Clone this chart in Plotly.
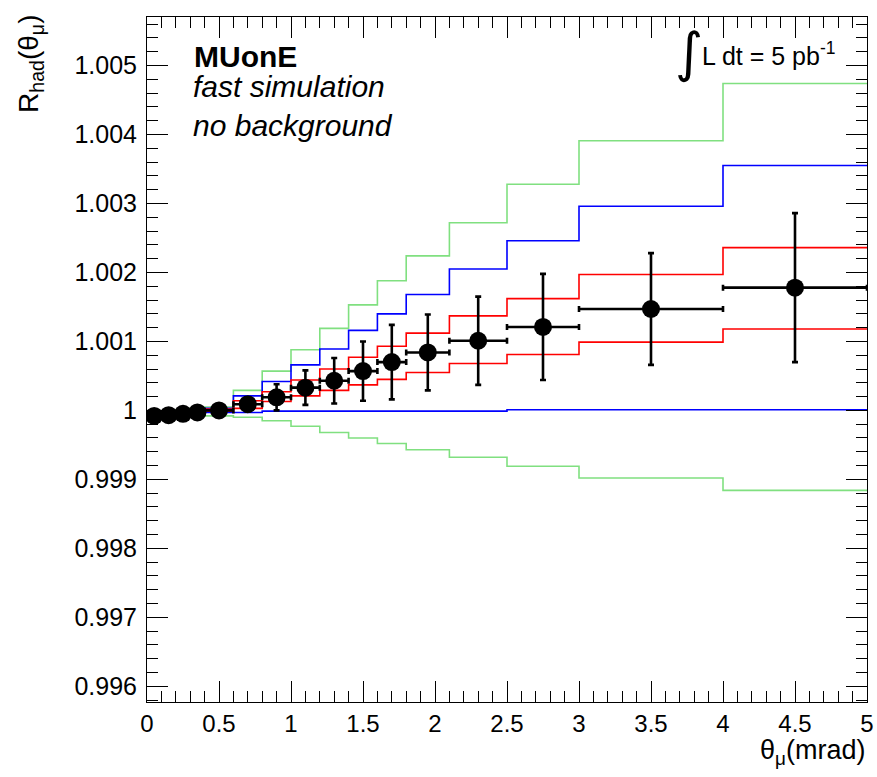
import plotly.graph_objects as go

# ---- data ----
bin_edges = [0, 0.1, 0.2, 0.3, 0.4, 0.6, 0.8, 1.0, 1.2, 1.4, 1.6, 1.8, 2.1, 2.5, 3.0, 4.0, 5.0]
theta_centers = [0.05, 0.15, 0.25, 0.35, 0.5, 0.7, 0.9, 1.1, 1.3, 1.5, 1.7, 1.95, 2.3, 2.75, 3.5, 4.5]
theta_halfwidth = [0.05, 0.05, 0.05, 0.05, 0.1, 0.1, 0.1, 0.1, 0.1, 0.1, 0.1, 0.15, 0.2, 0.25, 0.5, 0.5]
r_had = [0.99992, 0.99993, 0.99995, 0.99997, 1.00000, 1.00009, 1.00019, 1.00033,
         1.00043, 1.00057, 1.00070, 1.00084, 1.00101, 1.00121, 1.00147, 1.00178]
r_had_err = [0.00002, 0.00002, 0.00003, 0.00003, 0.00005, 0.00010, 0.00019, 0.00025,
             0.00033, 0.00043, 0.00054, 0.00055, 0.00064, 0.00077, 0.00081, 0.00108]

green_up = [0.99998, 0.99999, 1.00001, 1.00003, 1.00005, 1.00029, 1.00057, 1.00088,
            1.00119, 1.00153, 1.00188, 1.00224, 1.00272, 1.00328, 1.00391, 1.00474]
blue_up = [0.99997, 0.99998, 0.99999, 1.00001, 1.00003, 1.00021, 1.00042, 1.00066,
           1.00089, 1.00116, 1.00140, 1.00168, 1.00205, 1.00246, 1.00296, 1.00355]
red_up = [0.99997, 0.99997, 0.99998, 1.00000, 1.00002, 1.00014, 1.00027, 1.00044,
          1.00060, 1.00077, 1.00093, 1.00112, 1.00137, 1.00162, 1.00197, 1.00236]
red_lo = [0.99997, 0.99997, 0.99997, 0.99998, 0.99999, 1.00003, 1.00013, 1.00021,
          1.00029, 1.00037, 1.00045, 1.00055, 1.00068, 1.00081, 1.00099, 1.00118]
blue_lo = [0.99997, 0.99997, 0.99997, 0.99997, 0.99997, 0.99997, 0.99999, 0.99999,
           0.99999, 0.99999, 0.99999, 0.99999, 0.99999, 1.00001, 1.00001, 1.00001]
green_lo = [0.99996, 0.99995, 0.99994, 0.99993, 0.99992, 0.99990, 0.99985, 0.99977,
            0.99968, 0.99960, 0.99952, 0.99943, 0.99932, 0.99919, 0.99902, 0.99884]

x_tick_vals = [0, 0.5, 1, 1.5, 2, 2.5, 3, 3.5, 4, 4.5, 5]
x_tick_text = ["0", "0.5", "1", "1.5", "2", "2.5", "3", "3.5", "4", "4.5", "5"]
y_tick_vals = [0.996, 0.997, 0.998, 0.999, 1.000, 1.001, 1.002, 1.003, 1.004, 1.005]
y_tick_text = ["0.996", "0.997", "0.998", "0.999", "1", "1.001", "1.002", "1.003", "1.004", "1.005"]

GREEN = "#80e080"
BLUE = "#0000ff"
RED = "#ff0000"
FONT = "Liberation Sans, Arial, Helvetica, sans-serif"

fig = go.Figure()

for vals, col in [(green_up, GREEN), (green_lo, GREEN), (blue_up, BLUE), (blue_lo, BLUE),
                  (red_up, RED), (red_lo, RED)]:
    fig.add_trace(go.Scatter(
        x=bin_edges, y=vals + [vals[-1]], mode="lines", line_shape="hv",
        line=dict(color=col, width=1.6), hoverinfo="skip", showlegend=False))

fig.add_trace(go.Scatter(
    x=theta_centers, y=r_had, mode="markers",
    marker=dict(color="black", size=18, symbol="circle"),
    error_y=dict(type="data", array=r_had_err, color="black", thickness=2.6, width=3),
    error_x=dict(type="data", array=theta_halfwidth, color="black", thickness=2.6, width=3),
    showlegend=False))

# plot area in pixels
L, R, T, B = 147, 867, 17, 702
W, H = R - L, B - T


def px(xp):
    return (xp - L) / W


def py(yp):
    return (B - yp) / H


ann = []
ann.append(dict(text="<b>MUonE</b>", x=px(192), y=py(56), xref="paper", yref="paper",
                xanchor="left", yanchor="middle", showarrow=False,
                font=dict(family=FONT, size=30, color="black")))
ann.append(dict(text="<i>fast simulation</i>", x=px(191), y=py(86), xref="paper", yref="paper",
                xanchor="left", yanchor="middle", showarrow=False,
                font=dict(family=FONT, size=30, color="black")))
ann.append(dict(text="<i>no background</i>", x=px(191), y=py(125), xref="paper", yref="paper",
                xanchor="left", yanchor="middle", showarrow=False,
                font=dict(family=FONT, size=30, color="black")))
ann.append(dict(text="∫", x=px(689), y=py(53), xref="paper", yref="paper",
                xanchor="center", yanchor="middle", showarrow=False,
                font=dict(family="DejaVu Sans, sans-serif", size=54, color="black")))
ann.append(dict(text="L dt = 5 pb<sup>-1</sup>", x=px(700), y=py(54), xref="paper", yref="paper",
                xanchor="left", yanchor="middle", showarrow=False,
                font=dict(family=FONT, size=25, color="black")))
ann.append(dict(text="θ<sub>μ</sub>(mrad)", x=px(867), y=py(752), xref="paper", yref="paper",
                xanchor="right", yanchor="middle", showarrow=False,
                font=dict(family=FONT, size=27, color="black")))
ann.append(dict(text="R<sub>had</sub>(θ<sub>μ</sub>)", x=px(30), y=py(13), xref="paper", yref="paper",
                xanchor="center", yanchor="top", textangle=-90, showarrow=False,
                font=dict(family=FONT, size=28, color="black")))

axis_common = dict(showline=True, linecolor="black", linewidth=1, mirror="allticks",
                   ticks="inside", ticklen=21, tickcolor="black", tickwidth=1,
                   showgrid=False, zeroline=False, automargin=False)

fig.update_layout(
    width=877, height=777, autosize=False,
    margin=dict(l=L, r=877 - R, t=T, b=777 - B, autoexpand=False),
    paper_bgcolor="white", plot_bgcolor="white",
    xaxis=dict(range=[0, 5], tickmode="array", tickvals=x_tick_vals, ticktext=x_tick_text,
               tickfont=dict(family=FONT, size=24, color="black"),
               minor=dict(dtick=0.1, ticklen=11, ticks="inside", tickcolor="black", showgrid=False),
               **axis_common),
    yaxis=dict(range=[0.995772, 1.005704], tickmode="array", tickvals=y_tick_vals, ticktext=y_tick_text,
               tickfont=dict(family=FONT, size=25, color="black"), ticklabelstandoff=4,
               minor=dict(tick0=0.996, dtick=0.0002, ticklen=11, ticks="inside", tickcolor="black",
                          showgrid=False),
               **axis_common),
    annotations=ann,
    showlegend=False,
)

fig.write_html("out.html", config={"displayModeBar": False, "responsive": False},
               post_script="document.body.style.margin='0';document.documentElement.style.overflow='hidden';")
